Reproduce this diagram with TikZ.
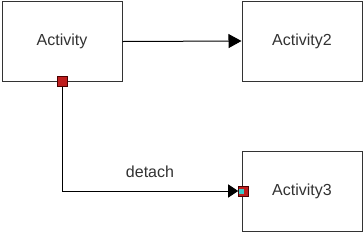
\documentclass[tikz,border=0pt]{standalone}
\usepackage{fontspec}
\setmainfont{Liberation Sans}
\usetikzlibrary{arrows.meta}
\definecolor{portred}{RGB}{190,30,30}
\definecolor{portcyan}{RGB}{60,200,200}
\definecolor{txt}{RGB}{50,50,50}
\tikzset{
  act/.style={draw=black!80, line width=1pt, minimum width=120pt, minimum height=80pt, inner sep=0pt, text=txt, font=\fontsize{16}{19}\selectfont},
  port/.style={draw=black!70!red, line width=0.6pt, fill=portred, minimum size=10pt, inner sep=0pt},
  conn/.style={draw=black, line width=1pt},
  lbl/.style={text=txt, font=\fontsize{16}{19}\selectfont, inner sep=0pt}
}
\begin{document}
\begin{tikzpicture}[x=1pt,y=-1pt]
\useasboundingbox (0,0) rectangle (364,234);
\node[act] (a1) at (62,41.5) {Activity};
\node[act] (a2) at (302,41) {Activity2};
\node[act] (a3) at (302,191.5) {Activity3};
\node[port] (p1) at (62,81.5) {};
\node[port] (p3) at (243.5,191) {};
\node[fill=portcyan, minimum size=5pt, inner sep=0pt] (p3i) at (241.5,191) {};
\coordinate (c) at (62,191);
\draw[conn, -{Triangle[length=13pt,width=14pt]}] (a1.east) -- (a2.west);
\draw[conn] (p1.south) -- (c);
\draw[conn, -{Triangle[length=10pt,width=13pt]}] (c) -- (p3.west);
\node[lbl] (l) at (150,172) {detach};
\end{tikzpicture}
\end{document}
